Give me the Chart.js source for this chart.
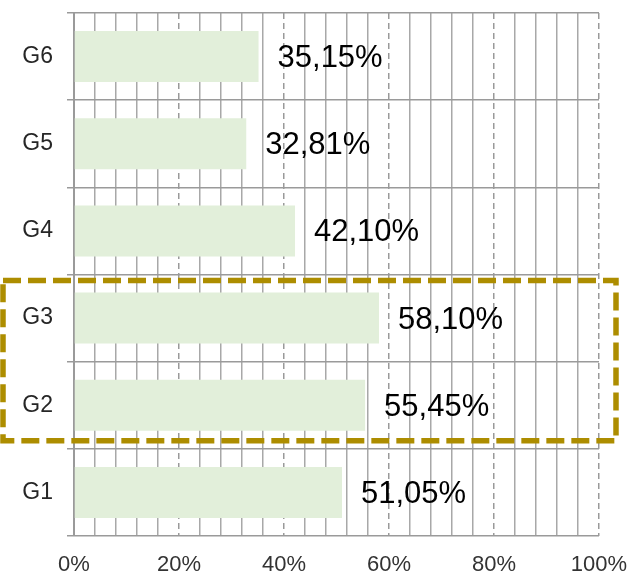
<!DOCTYPE html>
<html>
<head>
<meta charset="utf-8">
<script src="https://cdn.jsdelivr.net/npm/chart.js@4"></script>
<style>
	html, body { margin: 0; padding: 0; background: #ffffff; }
	#wrap { width: 630px; height: 574px; }
</style>
</head>
<body>
<div id="wrap"><canvas id="myChartGrupos"></canvas></div>
<script>
var grupos = ['G6', 'G5', 'G4', 'G3', 'G2', 'G1'];
var porcentajes = [35.15, 32.81, 42.10, 58.10, 55.45, 51.05];
var marcados = ['G3', 'G2'];
var ticksX = [0, 20, 40, 60, 80, 100];

function formato(v) {
	return v.toFixed(2).replace('.', ',') + '%';
}

// quitar el relleno automatico que pone chart.js por las etiquetas
function sinRelleno(scale) {
	scale.paddingTop = 0;
	scale.paddingBottom = 0;
	scale.paddingLeft = 0;
	scale.paddingRight = 0;
}

// etiquetas al final de cada barra
var etiquetas = {
	id: 'etiquetas',
	afterDatasetsDraw: function (chart) {
		var ctx = chart.ctx;
		var meta = chart.getDatasetMeta(0);
		ctx.save();
		ctx.font = '31px "Liberation Sans", Arial, sans-serif';
		ctx.fillStyle = '#000000';
		ctx.textAlign = 'left';
		ctx.textBaseline = 'middle';
		meta.data.forEach(function (bar, i) {
			ctx.fillText(formato(porcentajes[i]), bar.x + 19, bar.y + 2);
		});
		ctx.restore();
	},
};

// recuadro punteado sobre G3 y G2
var recuadro = {
	id: 'recuadro',
	afterDraw: function (chart) {
		var ctx = chart.ctx;
		var y = chart.scales.y;
		var x = chart.scales.x;
		var paso = y.height / grupos.length;
		var i1 = grupos.indexOf(marcados[0]);
		var i2 = grupos.indexOf(marcados[marcados.length - 1]);
		var top = y.getPixelForValue(i1) - paso / 2 + 6;
		var bottom = y.getPixelForValue(i2) + paso / 2 - 8;
		var left = 3;
		var right = x.getPixelForValue(100) + 17;
		ctx.save();
		ctx.strokeStyle = '#ad8d00';
		ctx.lineWidth = 5.5;
		ctx.setLineDash([18, 7]);
		ctx.beginPath();
		ctx.moveTo(left, top);
		ctx.lineTo(right, top);
		ctx.lineTo(right, bottom);
		ctx.lineTo(left, bottom);
		ctx.closePath();
		ctx.stroke();
		ctx.restore();
	},
};

var ctx = document.getElementById('myChartGrupos');
var myChart = new Chart(ctx, {
	type: 'bar',
	data: {
		labels: grupos,
		datasets: [
			{
				data: porcentajes,
				backgroundColor: '#e2efda',
				borderWidth: 0,
				categoryPercentage: 1,
				barPercentage: 0.585,
			},
		],
	},
	plugins: [etiquetas, recuadro],
	options: {
		indexAxis: 'y',
		responsive: true,
		maintainAspectRatio: false,
		animation: false,
		layout: { padding: { top: 13, right: 31, left: 0, bottom: 0 } },
		plugins: {
			legend: { display: false },
			tooltip: { enabled: false },
		},
		scales: {
			x: {
				min: 0,
				max: 100,
				position: 'bottom',
				afterBuildTicks: function (scale) {
					scale.ticks = ticksX.map(function (v) { return { value: v }; });
				},
				afterFit: function (scale) {
					scale.height = 38;
					sinRelleno(scale);
				},
				grid: {
					color: '#9a9a9a',
					lineWidth: 1.5,
					drawTicks: false,
				},
				border: { display: false, dash: [6, 4] },
				ticks: {
					padding: 16,
					color: '#333333',
					font: { size: 22, family: '"Liberation Sans", Arial, sans-serif' },
					callback: function (v) { return v + '%'; },
				},
			},
			menor: {
				axis: 'x',
				min: 0,
				max: 100,
				position: 'bottom',
				afterFit: function (scale) {
					scale.height = 0;
					sinRelleno(scale);
				},
				ticks: { display: false, stepSize: 4 },
				grid: {
					drawTicks: false,
					lineWidth: 1.5,
					color: function (c) {
						var v = c.tick ? c.tick.value : 0;
						return v % 20 === 0 ? 'rgba(0,0,0,0)' : '#a8a8a8';
					},
				},
				border: { display: false },
			},
			y: {
				afterFit: function (scale) {
					scale.width = 74;
					sinRelleno(scale);
				},
				grid: {
					offset: true,
					color: '#9a9a9a',
					lineWidth: 1.5,
					tickLength: 7,
				},
				border: { display: true, color: '#9a9a9a', width: 2 },
				ticks: {
					padding: 14,
					color: '#262626',
					font: { size: 23, family: '"Liberation Sans", Arial, sans-serif' },
				},
			},
		},
	},
});
</script>
</body>
</html>
